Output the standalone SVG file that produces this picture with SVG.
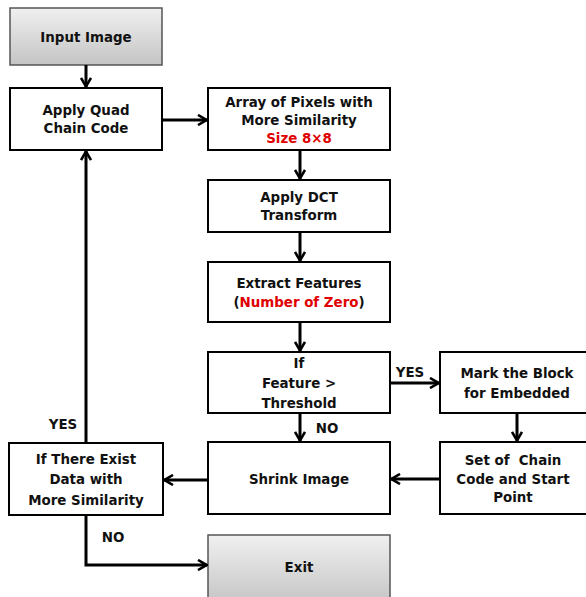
<svg xmlns="http://www.w3.org/2000/svg" width="586" height="597" viewBox="0 0 586 597">
<defs>
<linearGradient id="g" x1="0" y1="0" x2="0" y2="1">
<stop offset="0" stop-color="#f0f0f0"/>
<stop offset="1" stop-color="#c4c4c4"/>
</linearGradient>
<marker id="ah" viewBox="0 0 12 12" refX="11" refY="6" markerWidth="12" markerHeight="12" markerUnits="userSpaceOnUse" orient="auto">
<polyline points="2,1 10.5,6 2,11" fill="none" stroke="#000" stroke-width="2.6"/>
</marker>
<style>
.b{fill:#fff;stroke:#000;stroke-width:2}
.gb{fill:url(#g);stroke:#555;stroke-width:1.5}
.t{font-family:"DejaVu Sans",Verdana,sans-serif;font-weight:bold;font-size:13.4px;text-anchor:middle;fill:#111;white-space:pre}
.r{fill:#e00000}
.c{fill:none;stroke:#000;stroke-width:3;marker-end:url(#ah)}
</style>
</defs>
<rect width="586" height="597" fill="#fff"/>
<g id="input"><rect class="gb" x="10" y="8" width="152" height="57"/><text class="t" x="86" y="42">Input Image</text></g>
<g id="quad"><rect class="b" x="10" y="88" width="152" height="62"/><text class="t" x="86" y="115">Apply Quad</text><text class="t" x="86" y="133">Chain Code</text></g>
<g id="array"><rect class="b" x="208" y="88" width="182" height="62"/><text class="t" x="299" y="107">Array of Pixels with</text><text class="t" x="299" y="125">More Similarity</text><text class="t r" x="299" y="143">Size 8×8</text></g>
<g id="dct"><rect class="b" x="208" y="180" width="182" height="52"/><text class="t" x="299" y="202">Apply DCT</text><text class="t" x="299" y="220">Transform</text></g>
<g id="extract"><rect class="b" x="208" y="262" width="182" height="60"/><text class="t" x="299" y="288">Extract Features</text><text class="t" x="299" y="307">(<tspan class="r">Number of Zero</tspan>)</text></g>
<g id="if"><rect class="b" x="208" y="352" width="182" height="61"/><text class="t" x="299" y="368">If</text><text class="t" x="299" y="388">Feature &gt;</text><text class="t" x="299" y="408">Threshold</text></g>
<g id="mark"><rect class="b" x="440" y="352" width="160" height="61"/><text class="t" x="517" y="378">Mark the Block</text><text class="t" x="517" y="398">for Embedded</text></g>
<g id="set"><rect class="b" x="440" y="442" width="160" height="72"/><text class="t" x="513" y="465" xml:space="preserve">Set of  Chain</text><text class="t" x="513" y="484">Code and Start</text><text class="t" x="513" y="502">Point</text></g>
<g id="shrink"><rect class="b" x="208" y="442" width="182" height="72"/><text class="t" x="299" y="484">Shrink Image</text></g>
<g id="exist"><rect class="b" x="9" y="443" width="154" height="72"/><text class="t" x="86" y="464">If There Exist</text><text class="t" x="86" y="484">Data with</text><text class="t" x="86" y="505">More Similarity</text></g>
<g id="exit"><rect class="gb" x="208" y="535" width="182" height="70"/><text class="t" x="299" y="572">Exit</text></g>
<g id="connectors">
<line class="c" x1="86" y1="65" x2="86" y2="87"/>
<line class="c" x1="162" y1="120" x2="207" y2="120"/>
<line class="c" x1="300" y1="150" x2="300" y2="179"/>
<line class="c" x1="300" y1="232" x2="300" y2="261"/>
<line class="c" x1="300" y1="322" x2="300" y2="351"/>
<line class="c" x1="390" y1="383" x2="439" y2="383"/>
<line class="c" x1="517" y1="413" x2="517" y2="441"/>
<line class="c" x1="300" y1="413" x2="300" y2="441"/>
<line class="c" x1="440" y1="479" x2="391" y2="479"/>
<line class="c" x1="208" y1="480" x2="164" y2="480"/>
<line class="c" x1="86" y1="443" x2="86" y2="151"/>
<polyline class="c" points="86,515 86,565 207,565"/>
<text class="t" x="63" y="429">YES</text>
<text class="t" x="113" y="542">NO</text>
<text class="t" x="410" y="377">YES</text>
<text class="t" x="327" y="433">NO</text>
</g>
</svg>
